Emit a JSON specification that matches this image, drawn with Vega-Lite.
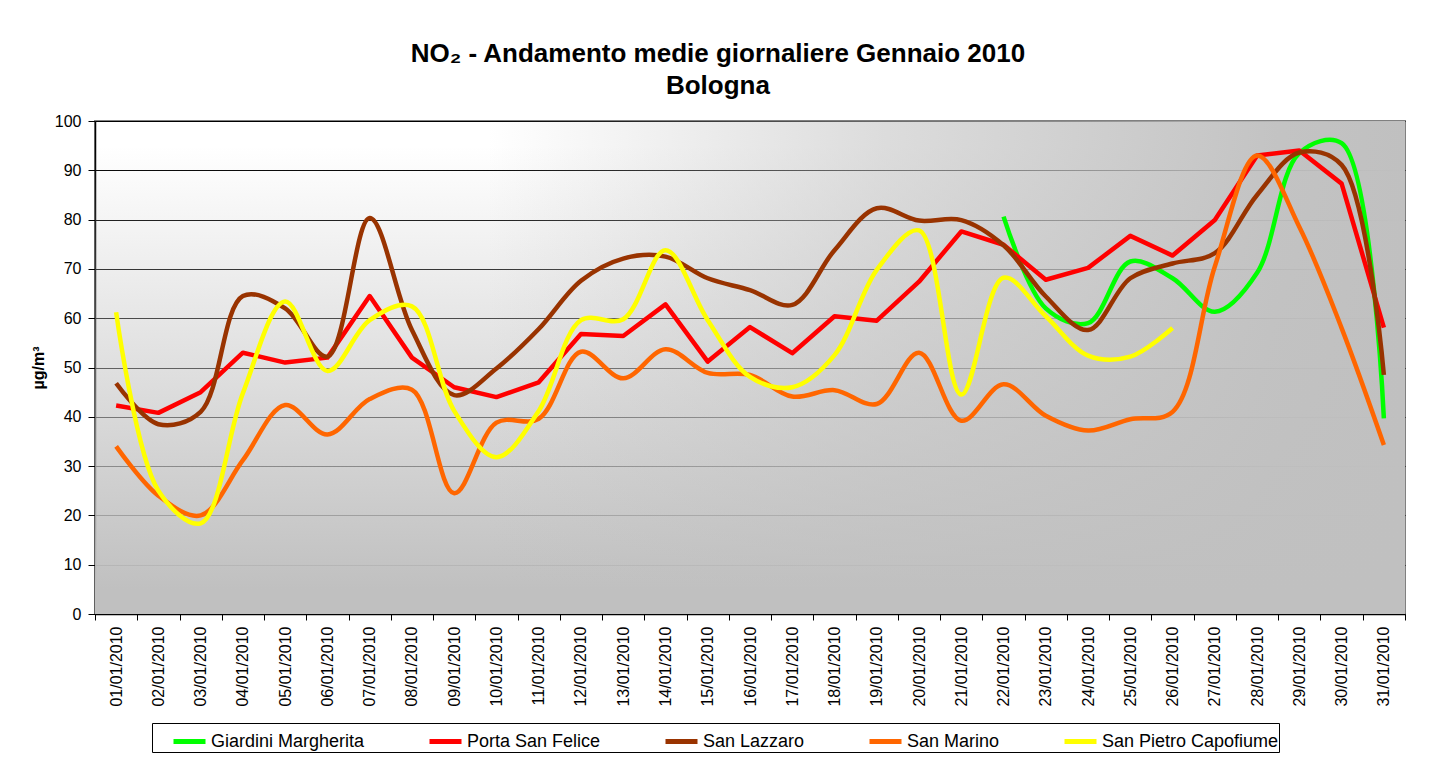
{
  "$schema": "https://vega.github.io/schema/vega-lite/v6.json",
  "width": 1310,
  "height": 493,
  "autosize": {"type": "none"},
  "padding": {"left": 95, "top": 121, "right": 32, "bottom": 148},
  "background": "white",
  "title": {
    "text": ["NO₂ - Andamento medie giornaliere Gennaio 2010", "Bologna"],
    "font": "Liberation Sans",
    "fontSize": 26,
    "fontWeight": "bold",
    "color": "black",
    "lineHeight": 32,
    "anchor": "middle",
    "frame": "bounds",
    "offset": 14
  },
  "config": {
    "view": {"stroke": "#808080", "strokeWidth": 2, "fill": "white"},
    "font": "Liberation Sans",
    "axis": {
      "labelFont": "Liberation Sans",
      "labelColor": "black",
      "labelFontSize": 16,
      "domainColor": "black",
      "domainWidth": 1.5,
      "tickColor": "black",
      "tickWidth": 1
    }
  },
  "datasets": {
    "bg": [{"sfondo": 1}],
    "no2": [
      {"giorno": "01/01/2010", "stazione": "Porta San Felice", "valore": 42.3},
      {"giorno": "02/01/2010", "stazione": "Porta San Felice", "valore": 40.8},
      {"giorno": "03/01/2010", "stazione": "Porta San Felice", "valore": 45.0},
      {"giorno": "04/01/2010", "stazione": "Porta San Felice", "valore": 53.0},
      {"giorno": "05/01/2010", "stazione": "Porta San Felice", "valore": 51.0},
      {"giorno": "06/01/2010", "stazione": "Porta San Felice", "valore": 52.0},
      {"giorno": "07/01/2010", "stazione": "Porta San Felice", "valore": 64.5},
      {"giorno": "08/01/2010", "stazione": "Porta San Felice", "valore": 52.0},
      {"giorno": "09/01/2010", "stazione": "Porta San Felice", "valore": 46.0},
      {"giorno": "10/01/2010", "stazione": "Porta San Felice", "valore": 44.0},
      {"giorno": "11/01/2010", "stazione": "Porta San Felice", "valore": 47.0},
      {"giorno": "12/01/2010", "stazione": "Porta San Felice", "valore": 56.8},
      {"giorno": "13/01/2010", "stazione": "Porta San Felice", "valore": 56.4},
      {"giorno": "14/01/2010", "stazione": "Porta San Felice", "valore": 62.8},
      {"giorno": "15/01/2010", "stazione": "Porta San Felice", "valore": 51.2},
      {"giorno": "16/01/2010", "stazione": "Porta San Felice", "valore": 58.2},
      {"giorno": "17/01/2010", "stazione": "Porta San Felice", "valore": 52.9},
      {"giorno": "18/01/2010", "stazione": "Porta San Felice", "valore": 60.4},
      {"giorno": "19/01/2010", "stazione": "Porta San Felice", "valore": 59.5},
      {"giorno": "20/01/2010", "stazione": "Porta San Felice", "valore": 67.4},
      {"giorno": "21/01/2010", "stazione": "Porta San Felice", "valore": 77.6},
      {"giorno": "22/01/2010", "stazione": "Porta San Felice", "valore": 74.9},
      {"giorno": "23/01/2010", "stazione": "Porta San Felice", "valore": 67.8},
      {"giorno": "24/01/2010", "stazione": "Porta San Felice", "valore": 70.2},
      {"giorno": "25/01/2010", "stazione": "Porta San Felice", "valore": 76.7},
      {"giorno": "26/01/2010", "stazione": "Porta San Felice", "valore": 72.7},
      {"giorno": "27/01/2010", "stazione": "Porta San Felice", "valore": 79.9},
      {"giorno": "28/01/2010", "stazione": "Porta San Felice", "valore": 93.0},
      {"giorno": "29/01/2010", "stazione": "Porta San Felice", "valore": 94.0},
      {"giorno": "30/01/2010", "stazione": "Porta San Felice", "valore": 87.3},
      {"giorno": "31/01/2010", "stazione": "Porta San Felice", "valore": 58.1},

      {"giorno": "22/01/2010", "stazione": "Giardini Margherita", "valore": 80.6},
      {"giorno": "23/01/2010", "stazione": "Giardini Margherita", "valore": 62.0},
      {"giorno": "24/01/2010", "stazione": "Giardini Margherita", "valore": 59.0},
      {"giorno": "25/01/2010", "stazione": "Giardini Margherita", "valore": 71.5},
      {"giorno": "26/01/2010", "stazione": "Giardini Margherita", "valore": 68.1},
      {"giorno": "27/01/2010", "stazione": "Giardini Margherita", "valore": 61.3},
      {"giorno": "28/01/2010", "stazione": "Giardini Margherita", "valore": 69.2},
      {"giorno": "29/01/2010", "stazione": "Giardini Margherita", "valore": 93.5},
      {"giorno": "30/01/2010", "stazione": "Giardini Margherita", "valore": 95.5},
      {"giorno": "31/01/2010", "stazione": "Giardini Margherita", "valore": 39.7},

      {"giorno": "01/01/2010", "stazione": "San Lazzaro", "valore": 46.8},
      {"giorno": "02/01/2010", "stazione": "San Lazzaro", "valore": 38.5},
      {"giorno": "03/01/2010", "stazione": "San Lazzaro", "valore": 41.0},
      {"giorno": "04/01/2010", "stazione": "San Lazzaro", "valore": 64.5},
      {"giorno": "05/01/2010", "stazione": "San Lazzaro", "valore": 62.0},
      {"giorno": "06/01/2010", "stazione": "San Lazzaro", "valore": 52.2},
      {"giorno": "07/01/2010", "stazione": "San Lazzaro", "valore": 80.3},
      {"giorno": "08/01/2010", "stazione": "San Lazzaro", "valore": 57.6},
      {"giorno": "09/01/2010", "stazione": "San Lazzaro", "valore": 44.4},
      {"giorno": "10/01/2010", "stazione": "San Lazzaro", "valore": 49.8},
      {"giorno": "11/01/2010", "stazione": "San Lazzaro", "valore": 57.8},
      {"giorno": "12/01/2010", "stazione": "San Lazzaro", "valore": 67.6},
      {"giorno": "13/01/2010", "stazione": "San Lazzaro", "valore": 72.1},
      {"giorno": "14/01/2010", "stazione": "San Lazzaro", "valore": 72.5},
      {"giorno": "15/01/2010", "stazione": "San Lazzaro", "valore": 68.1},
      {"giorno": "16/01/2010", "stazione": "San Lazzaro", "valore": 65.7},
      {"giorno": "17/01/2010", "stazione": "San Lazzaro", "valore": 62.7},
      {"giorno": "18/01/2010", "stazione": "San Lazzaro", "valore": 73.8},
      {"giorno": "19/01/2010", "stazione": "San Lazzaro", "valore": 82.3},
      {"giorno": "20/01/2010", "stazione": "San Lazzaro", "valore": 79.8},
      {"giorno": "21/01/2010", "stazione": "San Lazzaro", "valore": 79.9},
      {"giorno": "22/01/2010", "stazione": "San Lazzaro", "valore": 74.8},
      {"giorno": "23/01/2010", "stazione": "San Lazzaro", "valore": 64.4},
      {"giorno": "24/01/2010", "stazione": "San Lazzaro", "valore": 57.6},
      {"giorno": "25/01/2010", "stazione": "San Lazzaro", "valore": 68.1},
      {"giorno": "26/01/2010", "stazione": "San Lazzaro", "valore": 71.1},
      {"giorno": "27/01/2010", "stazione": "San Lazzaro", "valore": 73.2},
      {"giorno": "28/01/2010", "stazione": "San Lazzaro", "valore": 85.0},
      {"giorno": "29/01/2010", "stazione": "San Lazzaro", "valore": 93.6},
      {"giorno": "30/01/2010", "stazione": "San Lazzaro", "valore": 91.1},
      {"giorno": "31/01/2010", "stazione": "San Lazzaro", "valore": 48.5},

      {"giorno": "01/01/2010", "stazione": "San Marino", "valore": 34.0},
      {"giorno": "02/01/2010", "stazione": "San Marino", "valore": 24.0},
      {"giorno": "03/01/2010", "stazione": "San Marino", "valore": 20.0},
      {"giorno": "04/01/2010", "stazione": "San Marino", "valore": 31.2},
      {"giorno": "05/01/2010", "stazione": "San Marino", "valore": 42.4},
      {"giorno": "06/01/2010", "stazione": "San Marino", "valore": 36.4},
      {"giorno": "07/01/2010", "stazione": "San Marino", "valore": 43.6},
      {"giorno": "08/01/2010", "stazione": "San Marino", "valore": 45.5},
      {"giorno": "09/01/2010", "stazione": "San Marino", "valore": 24.5},
      {"giorno": "10/01/2010", "stazione": "San Marino", "valore": 38.8},
      {"giorno": "11/01/2010", "stazione": "San Marino", "valore": 39.6},
      {"giorno": "12/01/2010", "stazione": "San Marino", "valore": 53.2},
      {"giorno": "13/01/2010", "stazione": "San Marino", "valore": 47.8},
      {"giorno": "14/01/2010", "stazione": "San Marino", "valore": 53.7},
      {"giorno": "15/01/2010", "stazione": "San Marino", "valore": 48.9},
      {"giorno": "16/01/2010", "stazione": "San Marino", "valore": 48.5},
      {"giorno": "17/01/2010", "stazione": "San Marino", "valore": 44.1},
      {"giorno": "18/01/2010", "stazione": "San Marino", "valore": 45.4},
      {"giorno": "19/01/2010", "stazione": "San Marino", "valore": 42.6},
      {"giorno": "20/01/2010", "stazione": "San Marino", "valore": 53.0},
      {"giorno": "21/01/2010", "stazione": "San Marino", "valore": 39.2},
      {"giorno": "22/01/2010", "stazione": "San Marino", "valore": 46.6},
      {"giorno": "23/01/2010", "stazione": "San Marino", "valore": 40.2},
      {"giorno": "24/01/2010", "stazione": "San Marino", "valore": 37.2},
      {"giorno": "25/01/2010", "stazione": "San Marino", "valore": 39.5},
      {"giorno": "26/01/2010", "stazione": "San Marino", "valore": 41.0},
      {"giorno": "27/01/2010", "stazione": "San Marino", "valore": 70.5},
      {"giorno": "28/01/2010", "stazione": "San Marino", "valore": 93.0},
      {"giorno": "29/01/2010", "stazione": "San Marino", "valore": 78.5},
      {"giorno": "30/01/2010", "stazione": "San Marino", "valore": 58.0},
      {"giorno": "31/01/2010", "stazione": "San Marino", "valore": 34.3},

      {"giorno": "01/01/2010", "stazione": "San Pietro Capofiume", "valore": 61.2},
      {"giorno": "02/01/2010", "stazione": "San Pietro Capofiume", "valore": 25.0},
      {"giorno": "03/01/2010", "stazione": "San Pietro Capofiume", "valore": 18.4},
      {"giorno": "04/01/2010", "stazione": "San Pietro Capofiume", "valore": 44.8},
      {"giorno": "05/01/2010", "stazione": "San Pietro Capofiume", "valore": 63.4},
      {"giorno": "06/01/2010", "stazione": "San Pietro Capofiume", "valore": 49.3},
      {"giorno": "07/01/2010", "stazione": "San Pietro Capofiume", "valore": 59.6},
      {"giorno": "08/01/2010", "stazione": "San Pietro Capofiume", "valore": 62.4},
      {"giorno": "09/01/2010", "stazione": "San Pietro Capofiume", "valore": 41.2},
      {"giorno": "10/01/2010", "stazione": "San Pietro Capofiume", "valore": 31.8},
      {"giorno": "11/01/2010", "stazione": "San Pietro Capofiume", "valore": 41.2},
      {"giorno": "12/01/2010", "stazione": "San Pietro Capofiume", "valore": 59.6},
      {"giorno": "13/01/2010", "stazione": "San Pietro Capofiume", "valore": 59.8},
      {"giorno": "14/01/2010", "stazione": "San Pietro Capofiume", "valore": 73.8},
      {"giorno": "15/01/2010", "stazione": "San Pietro Capofiume", "valore": 59.6},
      {"giorno": "16/01/2010", "stazione": "San Pietro Capofiume", "valore": 48.1},
      {"giorno": "17/01/2010", "stazione": "San Pietro Capofiume", "valore": 46.0},
      {"giorno": "18/01/2010", "stazione": "San Pietro Capofiume", "valore": 52.5},
      {"giorno": "19/01/2010", "stazione": "San Pietro Capofiume", "valore": 69.8},
      {"giorno": "20/01/2010", "stazione": "San Pietro Capofiume", "valore": 77.8},
      {"giorno": "21/01/2010", "stazione": "San Pietro Capofiume", "valore": 44.5},
      {"giorno": "22/01/2010", "stazione": "San Pietro Capofiume", "valore": 68.2},
      {"giorno": "23/01/2010", "stazione": "San Pietro Capofiume", "valore": 60.4},
      {"giorno": "24/01/2010", "stazione": "San Pietro Capofiume", "valore": 52.4},
      {"giorno": "25/01/2010", "stazione": "San Pietro Capofiume", "valore": 52.2},
      {"giorno": "26/01/2010", "stazione": "San Pietro Capofiume", "valore": 58.0}
    ]
  },
  "layer": [
    {
      "data": {"name": "bg"},
      "mark": {
        "type": "rect",
        "color": {
          "gradient": "linear",
          "x1": 0, "y1": 0, "x2": 0, "y2": 1,
          "stops": [
            {"offset": 0.0, "color": "rgba(192,192,192,0)"},
            {"offset": 0.05, "color": "rgba(192,192,192,0)"},
            {"offset": 0.95, "color": "rgba(192,192,192,1)"},
            {"offset": 1.0, "color": "rgba(192,192,192,1)"}
          ]
        }
      },
      "encoding": {}
    },
    {
      "data": {"name": "bg"},
      "mark": {
        "type": "rect",
        "color": {
          "gradient": "linear",
          "x1": 0, "y1": 0, "x2": 1, "y2": 0,
          "stops": [
            {"offset": 0.0, "color": "rgba(192,192,192,0)"},
            {"offset": 0.3, "color": "rgba(192,192,192,0)"},
            {"offset": 0.6, "color": "rgba(192,192,192,0.55)"},
            {"offset": 0.9, "color": "rgba(192,192,192,0.95)"},
            {"offset": 1.0, "color": "rgba(192,192,192,1)"}
          ]
        }
      },
      "encoding": {}
    },
    {
      "data": {"name": "no2"},
      "encoding": {
        "x": {
          "field": "giorno",
          "type": "ordinal",
          "scale": {"paddingInner": 0, "paddingOuter": 0},
          "axis": {
            "title": null,
            "labelAngle": 270,
            "labelAlign": "right",
            "labelBaseline": "middle",
            "tickBand": "extent",
            "tickSize": 6,
            "labelPadding": 6,
            "grid": false
          }
        },
        "y": {
          "field": "valore",
          "type": "quantitative",
          "scale": {"domain": [0, 100], "nice": false},
          "axis": {
            "values": [0, 10, 20, 30, 40, 50, 60, 70, 80, 90, 100],
            "title": "µg/m³",
            "titleFont": "Liberation Sans",
            "titleFontSize": 16,
            "titleFontWeight": "bold",
            "titleColor": "black",
            "titlePadding": 8,
            "tickSize": 7,
            "labelPadding": 7,
            "grid": true,
            "gridColor": "black",
            "gridWidth": 1,
            "gridOpacity": 1
          }
        },
        "color": {
          "field": "stazione",
          "type": "nominal",
          "scale": {
            "domain": ["Giardini Margherita", "Porta San Felice", "San Lazzaro", "San Marino", "San Pietro Capofiume"],
            "range": ["#00ff00", "#ff0000", "#993300", "#ff6600", "#ffff00"]
          },
          "legend": {
            "title": " ",
            "titleOrient": "left",
            "titleFontSize": 18,
            "titlePadding": 19,
            "orient": "none",
            "legendX": 57,
            "legendY": 602,
            "direction": "horizontal",
            "columns": 5,
            "gridAlign": "none",
            "columnPadding": 54,
            "padding": 0,
            "strokeColor": "black",
            "fillColor": "white",
            "symbolType": "stroke",
            "symbolSize": 1024,
            "symbolStrokeWidth": 5,
            "labelFont": "Liberation Sans",
            "labelFontSize": 18,
            "labelColor": "black",
            "labelOffset": 3,
            "labelLimit": 400
          }
        }
      },
      "layer": [
        {
          "transform": [{"filter": "datum.stazione === 'Giardini Margherita'"}],
          "mark": {"type": "line", "interpolate": "catmull-rom", "strokeWidth": 4.5}
        },
        {
          "transform": [{"filter": "datum.stazione === 'Porta San Felice'"}],
          "mark": {"type": "line", "interpolate": "linear", "strokeWidth": 4.5, "strokeJoin": "round"}
        },
        {
          "transform": [{"filter": "datum.stazione !== 'Giardini Margherita' && datum.stazione !== 'Porta San Felice'"}],
          "mark": {"type": "line", "interpolate": "catmull-rom", "strokeWidth": 4.5}
        }
      ]
    }
  ]
}
